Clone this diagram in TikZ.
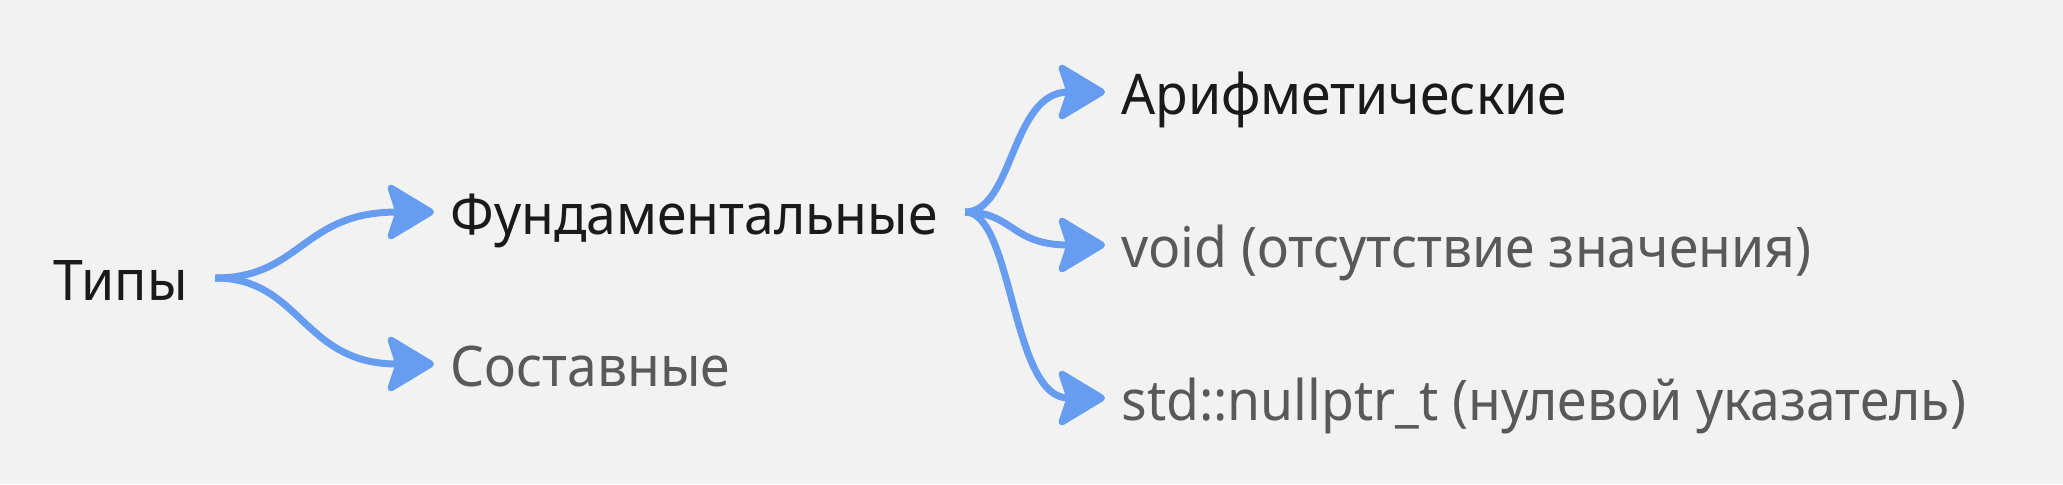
\documentclass[tikz,border=0pt]{standalone}
\usepackage{fontspec}
\setmainfont{Noto Sans}[FakeStretch=0.955]
\usepackage{tikz}
\usetikzlibrary{positioning, arrows.meta}

\definecolor{bgcol}{RGB}{242,242,242}
\definecolor{linkcol}{RGB}{102,157,240}
\definecolor{headcol}{RGB}{26,26,26}
\definecolor{leafcol}{RGB}{89,89,89}

\begin{document}
\begin{tikzpicture}[x=0.5pt, y=-0.5pt,
    >={Stealth[length=26pt, width=31pt, inset=5pt, round]},
    item/.style={anchor=west, inner xsep=8pt, inner ysep=0pt, text height=22.7pt, text depth=0pt, font=\fontsize{28}{34}\selectfont},
    head/.style={item, text=headcol},
    leaf/.style={item, text=leafcol},
    link/.style={->, draw=linkcol, line width=3.5pt}]
    \fill[bgcol] (0,0) rectangle (2063,484);
    \useasboundingbox (0,0) rectangle (2063,484);

    \node[head] (typ) at (37,278) {Типы};
    \node[head] (fund) at (434,212) {Фундаментальные};
    \node[leaf] (comp) at (434,364) {Составные};

    \node[head] (arith) at (1105,92) {Арифметические};
    \node[leaf] (void) at (1105,245) {void (отсутствие значения)};
    \node[leaf] (nptr) at (1105,398) {std::nullptr\_t (нулевой указатель)};

    \draw[link] ([xshift=5.5pt]typ.east) .. controls +(43pt,0) and +(-66pt,0) .. (fund.west);
    \draw[link] ([xshift=5.5pt]typ.east) .. controls +(43pt,0) and +(-66pt,0) .. (comp.west);

    \draw[link] ([xshift=5.5pt]fund.east) .. controls +(24pt,0) and +(-47pt,0) .. (arith.west);
    \draw[link] ([xshift=5.5pt]fund.east) .. controls +(24pt,0) and +(-47pt,0) .. (void.west);
    \draw[link] ([xshift=5.5pt]fund.east) .. controls +(24pt,0) and +(-47pt,0) .. (nptr.west);
\end{tikzpicture}
\end{document}
